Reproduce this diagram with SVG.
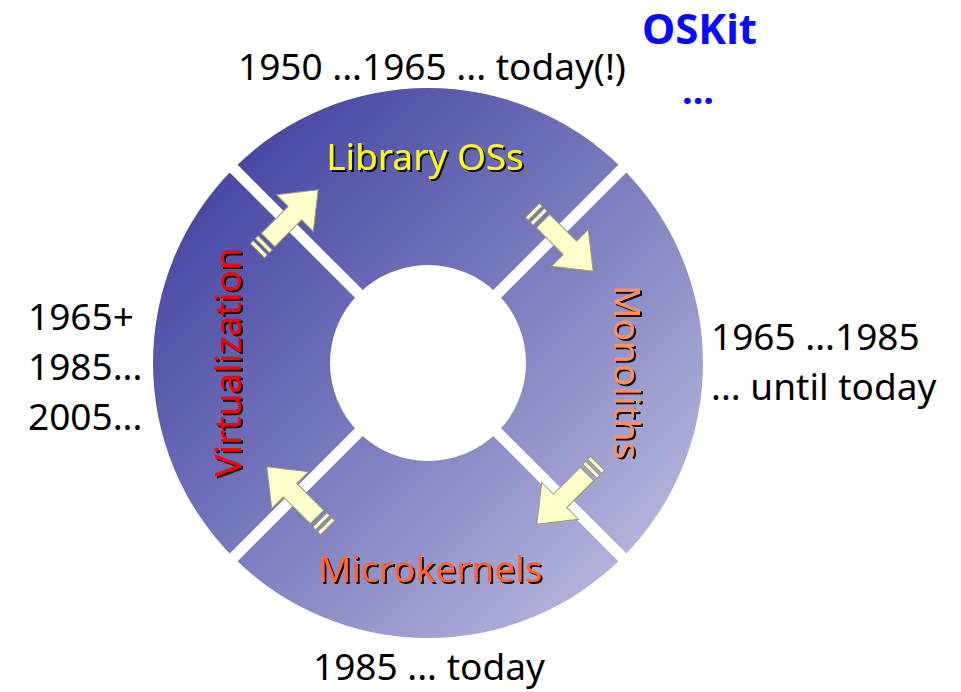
<svg xmlns="http://www.w3.org/2000/svg" width="961" height="692" viewBox="0 0 961 692">
  <defs>
    <linearGradient id="ringFill" gradientUnits="userSpaceOnUse" x1="156" y1="91" x2="700" y2="634">
      <stop offset="0" stop-color="#35359a"/>
      <stop offset="0.5" stop-color="#7a7abd"/>
      <stop offset="1" stop-color="#c8c8e6"/>
    </linearGradient>
    <filter id="shadow" x="-10%" y="-10%" width="120%" height="120%">
      <feDropShadow dx="2" dy="2" stdDeviation="0.4" flood-color="#000" flood-opacity="0.9"/>
    </filter>
    <!-- block arrow pointing along +x, tail at origin -->
    <g id="arrow">
      <rect x="-15" y="-10" width="4" height="20" class="tick"/>
      <rect x="-8" y="-10" width="4" height="20" class="tick"/>
      <polygon points="0,-9.5 38,-9.5 38,-26 71,0 38,26 38,9.5 0,9.5" class="arrowBody"/>
    </g>
  </defs>
  <style>
    .sector { fill: url(#ringFill); }
    .gap { stroke: #fff; stroke-width: 11; stroke-linecap: butt; }
    .arrowBody, .tick { fill: #ffffcc; stroke: #9a9a78; stroke-width: 1; stroke-linejoin: miter; }
    .label { font-family: "Noto Sans", "Open Sans", sans-serif; font-size: 37px; }
    .year { font-family: "Noto Sans", "Open Sans", sans-serif; font-size: 37px; fill: #000; }
    .blue { font-family: "Noto Sans", "Open Sans", sans-serif; font-weight: bold; fill: #0a0aff; }
  </style>

  <!-- ring quarters -->
  <g id="library-oss">
    <path class="sector" d="M 233.55 168.55 A 275 275 0 0 1 622.45 168.55 L 497.30 293.70 A 98 98 0 0 0 358.70 293.70 Z"/>
  </g>
  <g id="monoliths">
    <path class="sector" d="M 622.45 168.55 A 275 275 0 0 1 622.45 557.45 L 497.30 432.30 A 98 98 0 0 0 497.30 293.70 Z"/>
  </g>
  <g id="microkernels">
    <path class="sector" d="M 622.45 557.45 A 275 275 0 0 1 233.55 557.45 L 358.70 432.30 A 98 98 0 0 0 497.30 432.30 Z"/>
  </g>
  <g id="virtualization">
    <path class="sector" d="M 233.55 557.45 A 275 275 0 0 1 233.55 168.55 L 358.70 293.70 A 98 98 0 0 0 358.70 432.30 Z"/>
  </g>

  <!-- white separators between quarters -->
  <g id="separators">
    <line class="gap" x1="215" y1="150" x2="641" y2="576"/>
    <line class="gap" x1="641" y1="150" x2="215" y2="576"/>
  </g>

  <!-- transition arrows -->
  <g id="connectors">
    <use href="#arrow" transform="translate(268,240) rotate(-45)"/>
    <use href="#arrow" transform="translate(543,221) rotate(45)"/>
    <use href="#arrow" transform="translate(587,474) rotate(135)"/>
    <use href="#arrow" transform="translate(317,517) rotate(-135)"/>
  </g>

  <!-- quarter labels -->
  <g id="label-library" filter="url(#shadow)">
    <text class="label" x="425" y="170" text-anchor="middle" fill="#ffff00">Library OSs</text>
  </g>
  <g id="label-monoliths" filter="url(#shadow)">
    <text class="label" transform="translate(614,372) rotate(90)" text-anchor="middle" fill="#ff8f5c">Monoliths</text>
  </g>
  <g id="label-microkernels" filter="url(#shadow)">
    <text class="label" x="430" y="582" text-anchor="middle" fill="#ff6633">Microkernels</text>
  </g>
  <g id="label-virtualization" filter="url(#shadow)">
    <text class="label" transform="translate(241,362) rotate(-90)" text-anchor="middle" fill="#ff0000" font-size="38">Virtualization</text>
  </g>

  <!-- era annotations -->
  <g id="annotations">
    <text class="year" x="238" y="80">1950 ...1965 ... today(!)</text>
    <text class="blue" x="642" y="44" font-size="42">OSKit</text>
    <text class="blue" x="682" y="104" font-size="38">...</text>
    <text class="year" x="28" y="330">1965+</text>
    <text class="year" x="28" y="380">1985...</text>
    <text class="year" x="28" y="430">2005...</text>
    <text class="year" x="711" y="350">1965 ...1985</text>
    <text class="year" x="711" y="400">... until today</text>
    <text class="year" x="313" y="680">1985 ... today</text>
  </g>
</svg>
